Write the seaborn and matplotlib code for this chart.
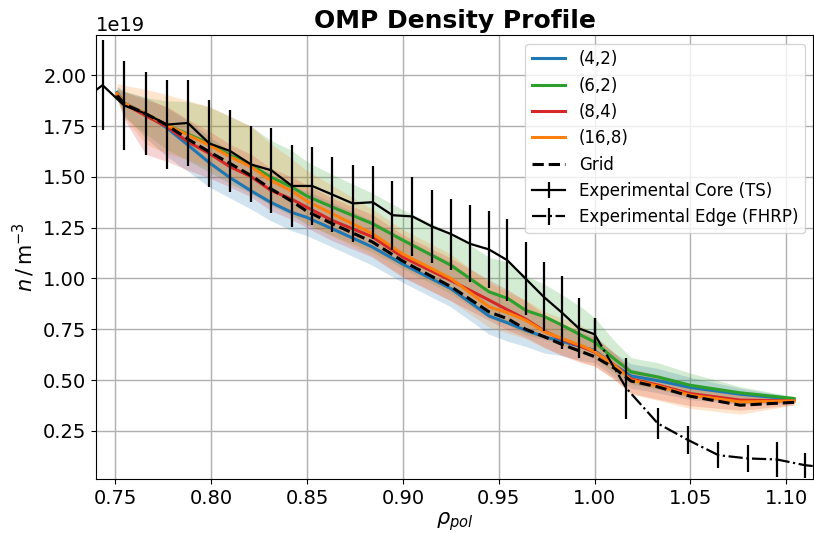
import numpy as np
import pandas as pd
import matplotlib
matplotlib.use("Agg")
import matplotlib.pyplot as plt
import seaborn as sns
from matplotlib.lines import Line2D

# ---------------- data (density in units of 1e19 m^-3) ----------------
rho_model = [0.751, 0.755, 0.766, 0.777, 0.788, 0.799, 0.810, 0.821, 0.831, 0.842,
             0.850, 0.863, 0.884, 0.900, 0.925, 0.945, 0.955, 0.964, 0.974, 0.983,
             0.993, 1.000, 1.010, 1.019, 1.033, 1.050, 1.076, 1.104]

n_42 = [1.915, 1.860, 1.810, 1.740, 1.656, 1.570, 1.495, 1.430, 1.375, 1.325,
        1.300, 1.245, 1.155, 1.070, 0.950, 0.815, 0.780, 0.745, 0.712, 0.690,
        0.665, 0.645, 0.575, 0.520, 0.497, 0.463, 0.430, 0.405]
n_62 = [1.910, 1.860, 1.810, 1.754, 1.710, 1.664, 1.606, 1.557, 1.500, 1.450,
        1.405, 1.352, 1.270, 1.188, 1.065, 0.934, 0.900, 0.843, 0.811, 0.770,
        0.720, 0.687, 0.606, 0.540, 0.515, 0.474, 0.437, 0.409]
n_84 = [1.900, 1.857, 1.800, 1.746, 1.672, 1.615, 1.549, 1.500, 1.434, 1.390,
        1.350, 1.286, 1.205, 1.105, 0.990, 0.893, 0.843, 0.800, 0.740, 0.700,
        0.665, 0.638, 0.575, 0.505, 0.475, 0.433, 0.401, 0.397]
n_168 = [1.910, 1.860, 1.810, 1.754, 1.705, 1.656, 1.598, 1.549, 1.483, 1.430,
         1.380, 1.319, 1.221, 1.120, 1.000, 0.860, 0.830, 0.794, 0.737, 0.704,
         0.670, 0.640, 0.575, 0.500, 0.470, 0.425, 0.392, 0.397]
n_grid = [1.900, 1.857, 1.810, 1.754, 1.685, 1.623, 1.565, 1.505, 1.442, 1.380,
          1.330, 1.270, 1.180, 1.085, 0.960, 0.835, 0.800, 0.750, 0.712, 0.675,
          0.640, 0.615, 0.560, 0.495, 0.466, 0.420, 0.376, 0.390]

# band extents below / above each curve
lo_42 = [0.02, 0.06, 0.12, 0.14, 0.13, 0.12, 0.10, 0.09, 0.09, 0.09,
         0.09, 0.09, 0.09, 0.09, 0.09, 0.09, 0.09, 0.08, 0.08, 0.07,
         0.07, 0.06, 0.06, 0.06, 0.06, 0.06, 0.05, 0.02]
hi_42 = [0.03, 0.06, 0.08, 0.10, 0.12, 0.13, 0.13, 0.13, 0.13, 0.13,
         0.13, 0.13, 0.13, 0.13, 0.13, 0.12, 0.11, 0.10, 0.09, 0.08,
         0.08, 0.07, 0.06, 0.06, 0.06, 0.05, 0.03, 0.01]
lo_62 = [0.03, 0.07, 0.10, 0.12, 0.13, 0.14, 0.14, 0.14, 0.14, 0.14,
         0.14, 0.14, 0.14, 0.14, 0.14, 0.13, 0.13, 0.12, 0.11, 0.10,
         0.09, 0.08, 0.07, 0.06, 0.06, 0.06, 0.05, 0.02]
hi_62 = [0.03, 0.06, 0.08, 0.12, 0.16, 0.18, 0.19, 0.19, 0.18, 0.18,
         0.17, 0.16, 0.15, 0.15, 0.16, 0.17, 0.18, 0.17, 0.16, 0.15,
         0.14, 0.12, 0.09, 0.07, 0.07, 0.06, 0.03, 0.01]
lo_84 = [0.02, 0.08, 0.19, 0.17, 0.14, 0.12, 0.10, 0.10, 0.10, 0.10,
         0.10, 0.10, 0.10, 0.10, 0.10, 0.10, 0.10, 0.09, 0.08, 0.08,
         0.08, 0.07, 0.07, 0.07, 0.07, 0.06, 0.05, 0.02]
hi_84 = [0.03, 0.06, 0.08, 0.10, 0.11, 0.11, 0.11, 0.11, 0.11, 0.11,
         0.11, 0.11, 0.11, 0.11, 0.11, 0.10, 0.10, 0.09, 0.08, 0.08,
         0.07, 0.07, 0.06, 0.05, 0.05, 0.05, 0.04, 0.01]
lo_168 = [0.02, 0.07, 0.15, 0.14, 0.12, 0.11, 0.11, 0.11, 0.11, 0.11,
          0.11, 0.11, 0.11, 0.11, 0.11, 0.10, 0.10, 0.09, 0.08, 0.08,
          0.08, 0.07, 0.07, 0.07, 0.07, 0.065, 0.06, 0.02]
hi_168 = [0.05, 0.09, 0.12, 0.15, 0.17, 0.19, 0.20, 0.20, 0.18, 0.16,
          0.15, 0.14, 0.12, 0.12, 0.12, 0.12, 0.10, 0.10, 0.10, 0.10,
          0.10, 0.08, 0.06, 0.05, 0.05, 0.05, 0.04, 0.01]

# experimental core (Thomson scattering)
ts_rho = [0.732, 0.7434, 0.7545, 0.7658, 0.7770, 0.7879, 0.7991, 0.8099, 0.8208,
          0.8314, 0.8422, 0.8527, 0.8631, 0.8739, 0.8843, 0.8946, 0.9050, 0.9153,
          0.9252, 0.9351, 0.9448, 0.9544, 0.9640, 0.9735, 0.9828, 0.9918, 1.0000]
ts_n = [1.870, 1.951, 1.852, 1.811, 1.757, 1.765, 1.664, 1.627, 1.561,
        1.532, 1.455, 1.455, 1.413, 1.369, 1.375, 1.311, 1.305, 1.255,
        1.218, 1.170, 1.143, 1.090, 0.999, 0.909, 0.833, 0.754, 0.725]
ts_err = [0.22, 0.22, 0.22, 0.205, 0.22, 0.21, 0.216, 0.20, 0.187,
          0.21, 0.20, 0.19, 0.185, 0.19, 0.18, 0.17, 0.195, 0.18,
          0.175, 0.19, 0.19, 0.20, 0.18, 0.17, 0.178, 0.148, 0.079]

# experimental edge (fast horizontal reciprocating probe)
fh_rho = [1.0000, 1.0165, 1.0330, 1.0489, 1.0646, 1.0799, 1.0950, 1.1096, 1.1250]
fh_n = [0.725, 0.460, 0.286, 0.204, 0.130, 0.114, 0.109, 0.081, 0.065]
fh_err = [0.08, 0.15, 0.078, 0.068, 0.064, 0.068, 0.084, 0.062, 0.06]

labels = ["(4,2)", "(6,2)", "(8,4)", "(16,8)"]
colors = ["#1f77b4", "#2ca02c", "#d62728", "#ff7f0e"]
SCALE = 1e19

# ---------------- figure ----------------
fig, ax = plt.subplots(figsize=(8.14, 5.33), dpi=100)
fig.subplots_adjust(left=0.118, right=0.999, top=0.934, bottom=0.101)

series = [n_42, n_62, n_84, n_168]
los = [lo_42, lo_62, lo_84, lo_168]
his = [hi_42, hi_62, hi_84, hi_168]

rho_arr = np.array(rho_model)
for vals, lo, hi, c in zip(series, los, his, colors):
    v = np.array(vals)
    ax.fill_between(rho_arr, (v - np.array(lo)) * SCALE, (v + np.array(hi)) * SCALE,
                    color=c, alpha=0.2, linewidth=0)

frames = []
for lab, vals in zip(labels, series):
    frames.append(pd.DataFrame({"rho": rho_model, "n": np.array(vals) * SCALE, "case": lab}))
df = pd.concat(frames, ignore_index=True)

sns.lineplot(data=df, x="rho", y="n", hue="case", hue_order=labels,
             palette=dict(zip(labels, colors)), linewidth=2.2, ax=ax, legend=False,
             estimator=None, sort=False)
sns.lineplot(x=rho_model, y=np.array(n_grid) * SCALE, color="black", linestyle="--",
             linewidth=2.2, ax=ax, estimator=None, sort=False)

ts_c = ax.errorbar(ts_rho, np.array(ts_n) * SCALE, yerr=np.array(ts_err) * SCALE,
                   color="black", linewidth=1.6, elinewidth=1.6, zorder=5)
fh_c = ax.errorbar(fh_rho, np.array(fh_n) * SCALE, yerr=np.array(fh_err) * SCALE,
                   color="black", linestyle="-.", linewidth=1.6, elinewidth=1.6, zorder=5)

handles = [Line2D([], [], color=c, linewidth=2.2) for c in colors]
handles.append(Line2D([], [], color="black", linestyle="--", linewidth=2.2))
handles += [ts_c, fh_c]
leg_labels = labels + ["Grid", "Experimental Core (TS)", "Experimental Edge (FHRP)"]
ax.legend(handles, leg_labels, loc="upper right", fontsize=12, framealpha=0.8)

ax.set_xlim(0.740, 1.114)
ax.set_ylim(0.012e19, 2.197e19)
ax.set_xticks([0.75, 0.80, 0.85, 0.90, 0.95, 1.00, 1.05, 1.10])
ax.set_yticks(np.arange(0.25, 2.01, 0.25) * SCALE)
ax.grid(True, color="#b0b0b0", linewidth=1)
ax.set_axisbelow(True)
ax.tick_params(labelsize=14)
ax.yaxis.get_offset_text().set_fontsize(14)
ax.set_title("OMP Density Profile", fontsize=18, fontweight="bold", pad=5)
ax.set_xlabel(r"$\rho_{pol}$", fontsize=15, labelpad=2)
ax.set_ylabel(r"$n\,/\,\mathrm{m}^{-3}$", fontsize=15)

fig.savefig("out.png", dpi=100)
